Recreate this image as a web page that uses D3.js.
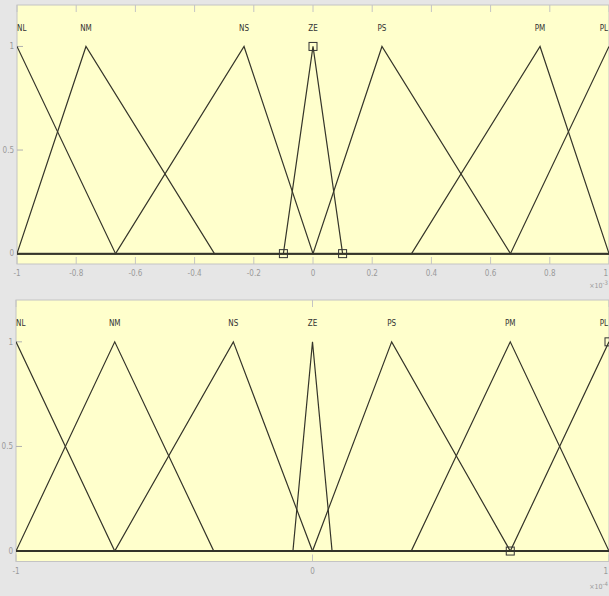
<!DOCTYPE html>
<html>
<head>
<meta charset="utf-8">
<script src="https://cdn.jsdelivr.net/npm/d3@7"></script>
<style>
  body { margin: 0; background: #e6e6e6; }
  svg { display: block; }
  .tick-label { font-family: "Liberation Sans Narrow", "DejaVu Sans Condensed", sans-serif; font-size: 8px; fill: #9a9a9a; }
  .mf-label { font-family: "Liberation Sans Narrow", "DejaVu Sans Condensed", sans-serif; font-size: 8px; fill: #333; }
</style>
</head>
<body>
<script>
// membership function names (same for both plots)
var mfNames = ["NL", "NM", "NS", "ZE", "PS", "PM", "PL"];

// triangle params [a, b, c]
var topParams = [
  [-1.333, -1, -0.667],
  [-1, -0.767, -0.333],
  [-0.667, -0.233, 0],
  [-0.1, 0, 0.1],
  [0, 0.233, 0.667],
  [0.333, 0.767, 1],
  [0.667, 1, 1.333]
];
var bottomParams = [
  [-1.333, -1, -0.667],
  [-1, -0.667, -0.333],
  [-0.667, -0.267, 0],
  [-0.066, 0, 0.066],
  [0, 0.267, 0.667],
  [0.333, 0.667, 1],
  [0.667, 1, 1.333]
];

var topXTicks = [-1, -0.8, -0.6, -0.4, -0.2, 0, 0.2, 0.4, 0.6, 0.8, 1];
var bottomXTicks = [-1, 0, 1];
var yTicks = [0, 0.5, 1];

var W = 609, H = 596;

var svg = d3.select("body").append("svg")
  .attr("width", W)
  .attr("height", H);

function trimf(x, p) {
  var a = p[0], b = p[1], c = p[2];
  if (x <= a || x >= c) return 0;
  if (x <= b) return (x - a) / (b - a);
  return (c - x) / (c - b);
}

function drawPanel(cfg) {
  var x = d3.scaleLinear().domain([-1, 1]).range([cfg.left, cfg.right]);
  var y = d3.scaleLinear().domain([-0.05, 1.2]).range([cfg.bottom, cfg.top]);

  var g = svg.append("g");
  var clipId = "clip" + cfg.id;
  g.append("clipPath").attr("id", clipId)
    .append("rect")
    .attr("x", cfg.left).attr("y", cfg.top)
    .attr("width", cfg.right - cfg.left).attr("height", cfg.bottom - cfg.top);

  g.append("rect")
    .attr("x", cfg.left).attr("y", cfg.top)
    .attr("width", cfg.right - cfg.left).attr("height", cfg.bottom - cfg.top)
    .attr("fill", "#ffffcc")
    .attr("stroke", "#c4c4c4")
    .attr("stroke-width", 1);

  // inward ticks top and bottom
  var tickLen = 7;
  cfg.xTicks.forEach(function(t, i) {
    g.append("line")
      .attr("x1", x(t)).attr("x2", x(t))
      .attr("y1", cfg.top).attr("y2", cfg.top + tickLen)
      .attr("stroke", "#c4c4c4");
    g.append("line")
      .attr("x1", x(t)).attr("x2", x(t))
      .attr("y1", cfg.bottom).attr("y2", cfg.bottom - tickLen)
      .attr("stroke", "#c4c4c4");
    var last = i === cfg.xTicks.length - 1;
    g.append("text").attr("class", "tick-label")
      .attr("x", last ? x(t) - 1 : x(t)).attr("y", cfg.bottom + 12)
      .attr("text-anchor", last ? "end" : "middle")
      .text(t);
  });

  yTicks.forEach(function(t) {
    g.append("line")
      .attr("x1", cfg.left).attr("x2", cfg.left + 6)
      .attr("y1", y(t)).attr("y2", y(t))
      .attr("stroke", "#b0b0b0");
    g.append("text").attr("class", "tick-label")
      .attr("x", cfg.left - 3).attr("y", y(t))
      .attr("dy", "0.35em")
      .attr("text-anchor", "end")
      .text(t);
  });

  // exponent label
  var ex = g.append("text").attr("class", "tick-label")
    .attr("x", cfg.right - 1).attr("y", cfg.bottom + cfg.expOffset)
    .attr("text-anchor", "end")
    .style("font-size", "7px");
  ex.append("tspan").text("\u00d710");
  ex.append("tspan").attr("dy", "-3").style("font-size", "6px").text(cfg.exp);

  var plot = g.append("g").attr("clip-path", "url(#" + clipId + ")");

  var line = d3.line()
    .x(function(d) { return x(d[0]); })
    .y(function(d) { return y(d[1]); });

  // overlapping zero parts make a heavier base line
  plot.append("line")
    .attr("x1", x(-1)).attr("x2", x(1))
    .attr("y1", y(0)).attr("y2", y(0))
    .attr("stroke", "#4a4a40")
    .attr("stroke-width", 2);

  cfg.params.forEach(function(p) {
    var xs = [-1].concat(p.filter(function(v) { return v > -1 && v < 1; })).concat([1]);
    var pts = xs.map(function(v) {
      var m = trimf(v, p);
      if (Math.abs(v - p[1]) < 1e-9) m = 1;
      return [v, m];
    });
    plot.append("path")
      .attr("d", line(pts))
      .attr("fill", "none")
      .attr("stroke", "#35352a")
      .attr("stroke-width", 1.2);
  });

  // highlighted MF vertices
  var hp = cfg.params[cfg.highlight];
  hp.forEach(function(v, i) {
    var m = i === 1 ? 1 : 0;
    plot.append("rect")
      .attr("x", x(v) - 4).attr("y", y(m) - 4)
      .attr("width", 8).attr("height", 8)
      .attr("fill", "none")
      .attr("stroke", "#333")
      .attr("stroke-width", 1);
  });

  // MF labels
  mfNames.forEach(function(name, i) {
    var cx = x(cfg.params[i][1]);
    var anchor = "middle";
    if (i === 0) { anchor = "start"; }
    if (i === mfNames.length - 1) { anchor = "end"; cx = cx - 1; }
    g.append("text").attr("class", "mf-label")
      .attr("x", cx).attr("y", y(1.09))
      .attr("dy", "0.35em")
      .attr("text-anchor", anchor)
      .text(name);
  });
}

drawPanel({ id: 1, left: 17, right: 609, top: 5, bottom: 264,
  params: topParams, xTicks: topXTicks, exp: "-3", expOffset: 24, highlight: 3 });
drawPanel({ id: 2, left: 16, right: 609, top: 300, bottom: 561.5,
  params: bottomParams, xTicks: bottomXTicks, exp: "-4", expOffset: 27, highlight: 6 });
</script>
</body>
</html>
